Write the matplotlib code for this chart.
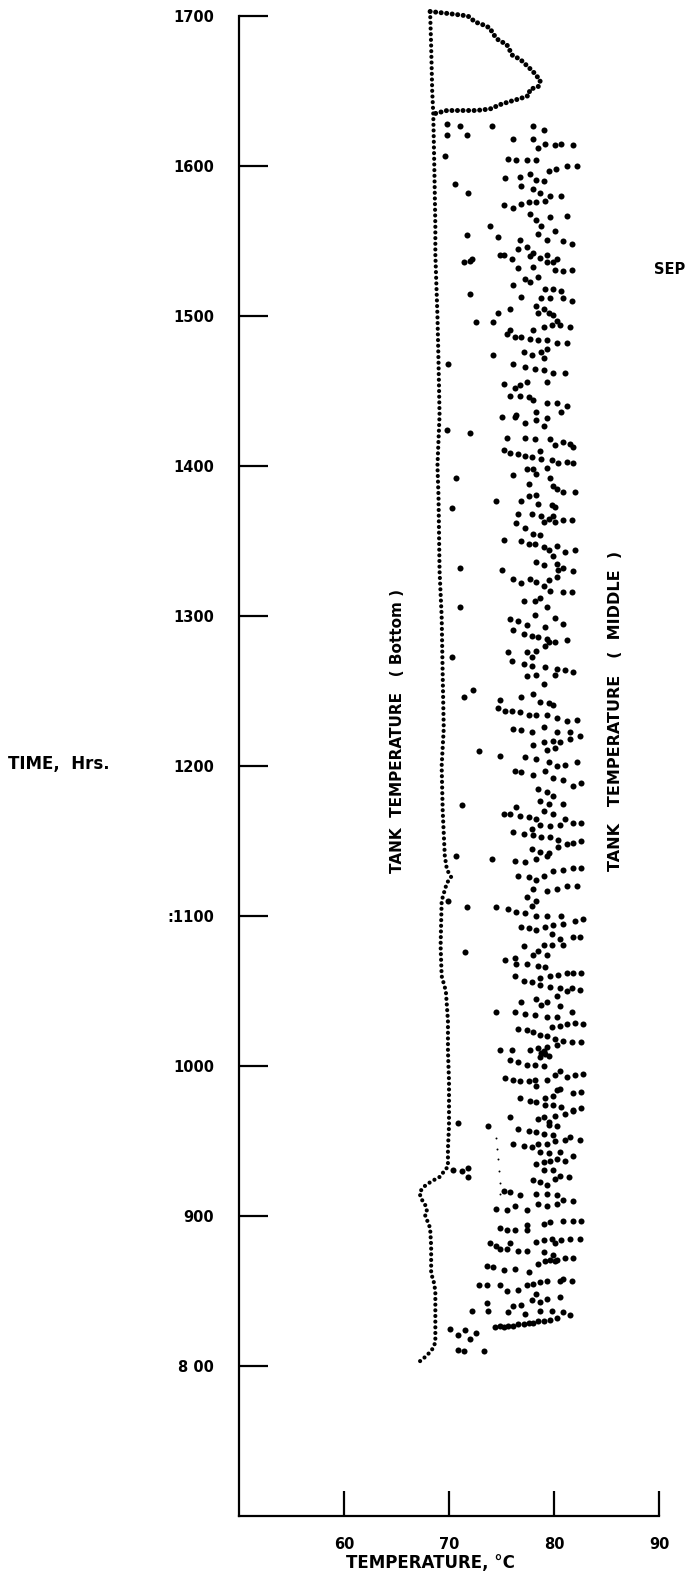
import matplotlib.pyplot as plt

W, H = 690, 1580
FONT = {'family': 'DejaVu Sans', 'weight': 'bold'}

# axis setup
x_ticks = [60, 70, 80, 90]
x_labels = ['60', '70', '80', '90']
y_ticks = [800, 900, 1000, 1100, 1200, 1300, 1400, 1500, 1600, 1700]
y_labels = ['8 00', '900', '1000', ':1100', '1200', '1300', '1400', '1500', '1600', '1700']

# tank temperature (bottom): traced dotted curve, (temp C, time hrs)
bottom_temp = [68.2, 68.3, 68.4, 68.5, 68.6, 68.7, 68.7, 68.9, 69.0, 69.1, 68.9, 69.0, 69.1,
               69.3, 69.4, 69.5, 69.3, 69.4, 69.6, 69.8, 70.2, 69.8, 69.5, 69.3, 69.2, 69.3,
               69.7, 69.9, 69.9, 70.0, 70.0, 69.9, 69.9, 69.1, 68.3, 67.7, 67.2, 67.3, 67.7,
               67.9, 67.7, 68.2, 68.3, 68.3, 68.5, 68.7, 68.7, 68.5, 67.9, 67.2, 66.9]
bottom_time = [1703, 1680, 1650, 1635, 1600, 1560, 1541, 1500, 1470, 1434, 1400, 1380, 1330,
               1300, 1260, 1225, 1200, 1170, 1140, 1131, 1126, 1122, 1115, 1110, 1080, 1060,
               1050, 1030, 1010, 990, 960, 945, 933, 926, 923, 920, 916, 912, 908,
               904, 901, 892, 880, 861, 858, 850, 816, 812, 807, 803, 801]

# loop at the top of the record
loop_temp = [68.2, 69.5, 70.7, 71.8, 72.5, 73.3, 73.9, 74.2, 74.7, 75.5, 75.8, 76.0, 76.8,
             77.4, 78.0, 78.7, 78.5, 77.7, 77.6, 76.8, 75.8, 74.9, 73.9, 72.6, 71.4, 69.8, 68.7]
loop_time = [1703, 1702, 1701, 1700, 1696, 1694, 1692, 1688, 1684, 1681, 1677, 1674, 1671,
             1667, 1663, 1657, 1653, 1651, 1647, 1645, 1643, 1641, 1638, 1637, 1637, 1637, 1635]

# tank temperature (middle): scattered readings, (temp C, time hrs)
middle_1540_1630 = [
    (69.8, 1628), (71.0, 1627), (74.1, 1627), (69.8, 1621), (71.7, 1621), (76.1, 1618),
    (78.0, 1627), (79.0, 1624), (78.0, 1618), (78.5, 1612), (79.1, 1615), (80.1, 1614),
    (80.7, 1615), (81.8, 1614), (69.6, 1607), (75.6, 1605), (76.4, 1604), (77.4, 1604),
    (78.3, 1604), (79.5, 1597), (80.2, 1598), (81.2, 1600), (82.2, 1600), (75.3, 1592),
    (76.8, 1593), (77.7, 1595), (78.3, 1591), (79.0, 1590), (70.6, 1588), (71.8, 1582),
    (76.9, 1587), (78.0, 1585), (78.7, 1582), (79.6, 1580), (80.7, 1580), (75.2, 1574),
    (76.1, 1572), (76.9, 1575), (77.6, 1576), (78.3, 1576), (79.1, 1577), (77.7, 1568),
    (78.3, 1564), (79.6, 1566), (81.2, 1567), (78.8, 1560), (80.1, 1557), (73.9, 1560),
    (71.7, 1554), (74.7, 1553), (76.8, 1551), (78.5, 1555), (79.3, 1551), (80.9, 1550),
    (81.7, 1548), (76.6, 1545), (77.4, 1546), (78.0, 1542), (79.3, 1541), (72.2, 1538),
    (75.2, 1541), (80.3, 1538),
]
middle_1434_1541 = [
    (71.4, 1536), (72.0, 1537), (74.9, 1541), (76.0, 1538), (76.6, 1532), (77.7, 1540),
    (78.0, 1533), (78.7, 1539), (79.3, 1536), (79.9, 1536), (80.1, 1531), (80.9, 1530),
    (81.7, 1531), (77.2, 1525), (77.7, 1523), (78.5, 1526), (76.1, 1521), (79.1, 1518),
    (79.9, 1518), (80.7, 1517), (72.0, 1515), (76.9, 1513), (78.8, 1512), (79.6, 1512),
    (80.9, 1512), (81.7, 1510), (75.8, 1505), (74.7, 1502), (74.2, 1496), (72.6, 1496),
    (78.3, 1507), (79.0, 1505), (78.5, 1502), (79.5, 1502), (79.9, 1501), (80.3, 1497),
    (79.8, 1494), (80.6, 1494), (81.5, 1493), (79.0, 1493), (78.0, 1491), (75.8, 1491),
    (75.5, 1488), (76.3, 1486), (76.9, 1486), (77.7, 1485), (78.5, 1484), (79.3, 1484),
    (80.3, 1482), (81.2, 1482), (77.1, 1476), (77.9, 1474), (78.8, 1476), (79.0, 1472),
    (79.3, 1478), (74.2, 1474), (69.9, 1468), (76.1, 1468), (77.2, 1466), (78.2, 1465),
    (79.0, 1464), (79.9, 1462), (81.0, 1462), (75.2, 1455), (76.3, 1452), (76.8, 1454),
    (77.4, 1456), (79.3, 1456), (75.8, 1447), (76.8, 1447), (77.6, 1446), (78.0, 1444),
    (79.3, 1442), (80.3, 1442), (81.2, 1440), (78.3, 1436), (80.7, 1436), (76.4, 1434),
]
middle_1330_1434 = [
    (75.0, 1433), (76.3, 1433), (77.2, 1429), (78.3, 1431), (79.0, 1427), (79.3, 1432),
    (69.8, 1424), (72.0, 1422), (75.5, 1419), (77.2, 1419), (78.2, 1418), (79.6, 1418),
    (80.1, 1414), (80.9, 1416), (81.5, 1415), (81.8, 1413), (75.2, 1411), (75.8, 1409),
    (76.6, 1408), (77.2, 1407), (77.9, 1406), (78.7, 1410), (78.8, 1405), (79.8, 1404),
    (80.4, 1402), (81.2, 1403), (81.8, 1402), (77.4, 1398), (78.0, 1398), (78.3, 1395),
    (79.3, 1399), (76.1, 1394), (70.7, 1392), (77.6, 1388), (79.6, 1392), (79.9, 1387),
    (80.3, 1385), (80.9, 1383), (82.0, 1383), (74.5, 1377), (76.9, 1377), (77.6, 1380),
    (78.3, 1381), (78.5, 1375), (79.8, 1374), (80.1, 1373), (70.3, 1372), (76.6, 1368),
    (77.9, 1368), (78.8, 1367), (79.0, 1363), (79.5, 1365), (79.9, 1367), (80.1, 1363),
    (80.9, 1364), (81.7, 1364), (76.4, 1362), (77.2, 1359), (78.0, 1355), (78.7, 1354),
    (75.2, 1351), (76.9, 1350), (77.6, 1348), (78.2, 1348), (79.0, 1346), (79.5, 1344),
    (80.3, 1347), (81.0, 1343), (82.0, 1344), (78.3, 1336), (79.0, 1334), (79.9, 1340),
    (80.3, 1335), (80.9, 1332), (81.8, 1330), (71.0, 1332), (75.0, 1331), (80.4, 1331),
]
middle_1223_1327 = [
    (76.1, 1325), (76.9, 1322), (77.7, 1325), (78.3, 1323), (79.0, 1320), (79.5, 1324),
    (80.3, 1326), (80.9, 1316), (81.7, 1316), (79.6, 1317), (71.0, 1306), (77.1, 1310),
    (78.2, 1310), (78.7, 1312), (79.3, 1306), (78.2, 1301), (75.8, 1298), (76.6, 1297),
    (77.4, 1294), (79.1, 1293), (80.1, 1299), (80.9, 1295), (76.1, 1291), (77.1, 1288),
    (77.9, 1287), (78.5, 1286), (79.3, 1285), (80.1, 1283), (81.2, 1284), (70.3, 1273),
    (75.6, 1276), (77.4, 1276), (77.9, 1273), (78.3, 1277), (79.1, 1280), (79.5, 1283),
    (76.0, 1270), (77.1, 1268), (77.9, 1267), (79.1, 1266), (80.3, 1265), (81.0, 1264),
    (81.8, 1263), (77.4, 1260), (78.3, 1261), (79.0, 1255), (80.1, 1261), (72.3, 1251),
    (71.4, 1246), (74.9, 1244), (76.9, 1246), (78.0, 1248), (78.7, 1243), (79.5, 1242),
    (79.9, 1241), (74.7, 1239), (75.3, 1237), (76.0, 1237), (76.8, 1236), (77.6, 1234),
    (78.3, 1234), (79.3, 1234), (80.3, 1232), (81.2, 1230), (82.2, 1231), (76.1, 1225),
    (76.9, 1224), (77.9, 1223), (79.0, 1226), (80.3, 1223), (81.5, 1223),
]
middle_1117_1220 = [
    (78.0, 1214), (79.0, 1216), (79.9, 1217), (80.6, 1216), (81.5, 1218), (82.5, 1220),
    (79.3, 1211), (80.1, 1212), (72.9, 1210), (74.9, 1207), (77.2, 1206), (78.3, 1205),
    (79.5, 1203), (80.3, 1200), (81.0, 1201), (82.2, 1203), (76.3, 1197), (76.9, 1196),
    (78.0, 1194), (79.1, 1197), (79.9, 1192), (80.9, 1191), (81.8, 1187), (82.6, 1189),
    (78.5, 1185), (79.3, 1183), (79.9, 1180), (78.7, 1177), (79.5, 1175), (80.9, 1175),
    (71.2, 1174), (75.2, 1168), (75.8, 1168), (76.4, 1173), (76.8, 1167), (77.6, 1166),
    (78.3, 1165), (79.0, 1170), (79.9, 1168), (81.0, 1165), (81.8, 1162), (82.6, 1162),
    (77.9, 1158), (78.7, 1161), (79.6, 1160), (80.6, 1161), (76.1, 1156), (77.1, 1155),
    (78.0, 1154), (78.8, 1153), (79.6, 1153), (80.4, 1151), (81.2, 1148), (81.8, 1149),
    (82.6, 1150), (77.9, 1145), (78.7, 1143), (79.5, 1142), (80.4, 1146), (70.7, 1140),
    (74.1, 1138), (76.3, 1137), (77.2, 1136), (78.3, 1138), (79.3, 1140), (76.6, 1127),
    (77.6, 1126), (78.3, 1124), (79.0, 1127), (79.9, 1130), (80.9, 1131), (81.8, 1132),
    (82.6, 1132), (78.0, 1118), (79.3, 1117), (80.3, 1118), (81.2, 1120), (82.2, 1120),
]
middle_1008_1113 = [
    (77.4, 1113), (78.3, 1110), (77.9, 1107), (69.9, 1110), (71.7, 1106), (74.5, 1106),
    (75.6, 1105), (76.4, 1103), (77.2, 1102), (78.3, 1100), (79.3, 1100), (80.7, 1100),
    (82.0, 1097), (82.8, 1098), (76.9, 1093), (77.6, 1092), (78.3, 1091), (79.1, 1093),
    (79.9, 1094), (80.9, 1095), (79.8, 1088), (80.6, 1085), (80.9, 1081), (81.8, 1086),
    (82.5, 1086), (77.1, 1080), (71.5, 1076), (78.0, 1074), (78.5, 1077), (79.0, 1081),
    (79.8, 1081), (79.3, 1074), (75.3, 1071), (76.3, 1072), (76.4, 1068), (77.4, 1068),
    (78.5, 1067), (79.1, 1066), (76.3, 1060), (77.1, 1057), (77.9, 1056), (78.7, 1059),
    (79.6, 1060), (80.4, 1061), (81.2, 1062), (81.8, 1062), (82.6, 1062), (78.7, 1054),
    (79.6, 1053), (80.6, 1052), (80.3, 1047), (81.2, 1050), (81.7, 1052), (82.5, 1051),
    (76.9, 1043), (78.3, 1045), (78.8, 1041), (79.3, 1043), (80.6, 1040), (74.5, 1036),
    (76.3, 1036), (77.2, 1035), (78.2, 1034), (79.3, 1033), (80.3, 1033), (81.7, 1036),
    (79.8, 1026), (80.6, 1027), (81.2, 1028), (82.0, 1029), (82.8, 1028), (76.6, 1025),
    (77.4, 1024), (78.0, 1023), (78.7, 1021), (79.3, 1020), (80.1, 1018), (80.9, 1017),
    (81.7, 1016), (82.6, 1016), (76.0, 1011), (77.7, 1011), (78.5, 1012), (79.0, 1010),
    (79.3, 1013), (80.3, 1014), (74.9, 1011), (78.8, 1009), (79.1, 1008),
]
middle_904_1007 = [
    (75.8, 1004), (76.6, 1003), (77.4, 1001), (78.2, 1001), (79.0, 1000), (78.7, 1006),
    (79.5, 1007), (75.3, 992), (76.1, 991), (76.8, 990), (77.6, 990), (78.2, 991),
    (78.3, 987), (79.3, 991), (80.1, 994), (80.6, 997), (81.2, 993), (82.0, 994),
    (82.8, 995), (76.8, 979), (77.7, 977), (78.3, 976), (79.1, 979), (79.9, 980),
    (80.3, 984), (80.6, 985), (81.8, 982), (82.6, 983), (79.1, 974), (79.9, 974),
    (80.7, 973), (81.8, 971), (82.6, 972), (75.8, 966), (78.5, 965), (79.0, 966),
    (79.5, 963), (80.1, 967), (81.0, 968), (81.8, 970), (73.7, 960), (70.9, 962),
    (76.6, 958), (77.6, 957), (78.3, 956), (79.0, 955), (79.9, 954), (79.5, 961),
    (80.3, 960), (76.1, 948), (77.1, 947), (77.9, 946), (78.5, 948), (79.3, 948),
    (80.1, 950), (81.0, 951), (81.5, 953), (82.5, 951), (78.7, 943), (79.5, 942),
    (80.6, 943), (78.3, 935), (79.0, 936), (79.6, 937), (80.3, 938), (81.0, 937),
    (81.8, 940), (79.0, 931), (79.9, 931), (80.6, 927), (81.4, 926), (78.0, 924),
    (78.7, 923), (79.3, 921), (80.1, 925), (78.3, 915), (79.3, 915), (80.3, 914),
    (80.9, 911), (81.8, 910), (76.8, 914), (75.2, 917), (75.8, 916), (74.5, 905),
    (75.5, 904), (76.3, 907), (77.4, 904), (78.5, 908), (79.3, 907), (80.3, 908),
    (70.4, 931), (71.2, 930), (71.8, 932), (71.8, 926),
]
middle_810_897 = [
    (74.9, 892), (75.5, 891), (76.3, 891), (77.4, 894), (77.4, 891), (79.0, 895),
    (79.6, 896), (80.9, 897), (81.8, 897), (82.6, 897), (73.9, 882), (74.5, 880),
    (74.9, 878), (75.5, 878), (75.8, 882), (76.6, 877), (77.4, 877), (78.3, 883),
    (79.0, 884), (79.8, 885), (80.1, 882), (80.7, 884), (81.5, 885), (82.5, 885),
    (79.0, 876), (79.9, 874), (80.1, 870), (81.0, 872), (81.8, 872), (73.6, 867),
    (74.2, 866), (75.2, 864), (76.3, 865), (77.6, 863), (78.5, 868), (79.1, 870),
    (79.6, 871), (80.3, 871), (80.6, 857), (80.9, 858), (81.7, 857), (72.9, 854),
    (73.6, 854), (74.9, 854), (75.5, 850), (76.6, 851), (77.4, 854), (78.0, 855),
    (78.7, 856), (79.3, 857), (78.3, 848), (77.9, 844), (78.7, 843), (79.3, 845),
    (80.6, 846), (72.2, 837), (73.6, 842), (73.7, 837), (75.6, 836), (76.1, 840),
    (76.9, 841), (77.2, 835), (78.7, 837), (79.8, 837), (80.9, 836), (81.5, 834),
    (74.4, 826), (75.2, 826), (76.1, 827), (77.1, 828), (78.0, 829), (79.0, 830),
    (80.3, 832), (74.9, 827), (75.6, 827), (76.6, 828), (77.6, 829), (78.5, 830),
    (79.6, 831), (70.1, 825), (70.9, 821), (71.5, 824), (72.0, 818), (72.6, 822),
    (70.9, 811), (71.4, 810), (73.3, 810),
]
# faint specks near 74.7 C
specks_temp = [74.5, 74.6, 74.7, 74.8, 74.9, 74.9]
specks_time = [952, 945, 938, 930, 922, 915]


def main():
    middle = (middle_1540_1630 + middle_1434_1541 + middle_1330_1434 + middle_1223_1327
              + middle_1117_1220 + middle_1008_1113 + middle_904_1007 + middle_810_897)
    mid_temp = [p[0] for p in middle]
    mid_time = [p[1] for p in middle]

    fig = plt.figure(figsize=(W / 100, H / 100), dpi=100)
    ax = fig.add_axes([239 / W, 64 / H, 420 / W, 1500 / H])
    ax.set_xlim(50, 90)
    ax.set_ylim(700, 1700)

    ax.plot(bottom_temp, bottom_time, color='black', lw=3.0, clip_on=False,
            linestyle=(0, (0.01, 1.35)), dash_capstyle='round')
    ax.plot(loop_temp, loop_time, color='black', lw=3.6, clip_on=False,
            linestyle=(0, (0.01, 1.1)), dash_capstyle='round')
    ax.scatter(mid_temp, mid_time, s=19, color='black', linewidths=0)
    ax.scatter(specks_temp, specks_time, s=2, color='black', linewidths=0)

    for side in ['top', 'right']:
        ax.spines[side].set_visible(False)
    for side in ['left', 'bottom']:
        ax.spines[side].set_linewidth(1.6)

    ax.set_xticks(x_ticks)
    ax.set_xticklabels(x_labels, fontdict=FONT, fontsize=10.5)
    ax.set_yticks(y_ticks)
    ax.set_yticklabels(y_labels, fontdict=FONT, fontsize=10.5)
    ax.tick_params(axis='x', direction='in', length=18, width=1.6, pad=15)
    ax.tick_params(axis='y', direction='in', length=21, width=1.6, pad=18)

    def ftext(x, y, s, **kw):
        fig.text(x / W, 1 - y / H, s, fontdict=FONT, **kw)

    ftext(430, 1563, 'TEMPERATURE, °C', fontsize=12, ha='center', va='center')
    ftext(8, 764, 'TIME,  Hrs.', fontsize=12, ha='left', va='center')
    ftext(654, 270, 'SEP', fontsize=10.5, ha='left', va='center')
    ftext(397, 731, 'TANK  TEMPERATURE   ( Bottom )', fontsize=11, rotation=90,
          ha='center', va='center')
    ftext(616, 711, 'TANK   TEMPERATURE   (  MIDDLE  )', fontsize=11.5, rotation=90,
          ha='center', va='center')

    fig.savefig('out.png', dpi=100, facecolor='white')
    plt.close(fig)


if __name__ == '__main__':
    main()
